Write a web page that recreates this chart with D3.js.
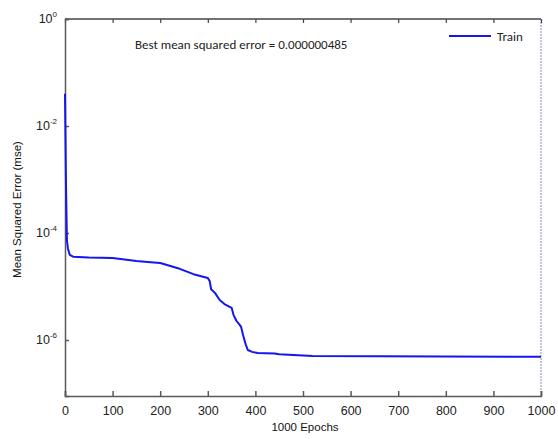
<!DOCTYPE html>
<html><head><meta charset="utf-8">
<script src="https://cdn.jsdelivr.net/npm/d3@7"></script>
<style>body{margin:0;background:#fff}svg{display:block}.arial{font-family:'Liberation Sans',Arial,sans-serif}.cal{font-family:Carlito,Lato,sans-serif}</style>
</head><body>
<script>
const epochs = [0,1,2,4,6,10,17,50,100,150,180,200,241,270,300,304,307,315,325,335,350,354,360,367,370,374,380,384,393,405,440,450,520,1000];
const mse = [0.04,6.3e-3,9e-4,7.4e-5,5.2e-5,3.9e-5,3.6e-5,3.48e-5,3.4e-5,3.0e-5,2.85e-5,2.75e-5,2.14e-5,1.7e-5,1.44e-5,1.26e-5,8.9e-6,7.6e-6,5.6e-6,4.7e-6,4.0e-6,2.95e-6,2.29e-6,1.91e-6,1.76e-6,1.24e-6,8.1e-7,6.5e-7,6.0e-7,5.7e-7,5.6e-7,5.4e-7,5.0e-7,4.85e-7];
const xTicks = [0,100,200,300,400,500,600,700,800,900,1000];
const yTickExps = [0,-2,-4,-6];
const legendLabel = "Train";
const annotation = "Best mean squared error = 0.000000485";
const xLabel = "1000 Epochs";
const yLabel = "Mean Squared Error (mse)";

const W = 558, H = 439;
const L = 65, R = 541, T = 19, B = 396;
const svg = d3.select("body").append("svg").attr("width", W).attr("height", H);
const x = d3.scaleLinear().domain([0,1000]).range([L,R]);
const yDecade = (B-T)/53.5;
const y = d3.scaleLog().domain([Math.pow(10, -yDecade), 1]).range([B,T]);

const axisColor = "#5a5a5a";
svg.append("line").attr("x1",L).attr("x2",R).attr("y1",T).attr("y2",T).attr("stroke","#444").attr("stroke-width",1.5);
svg.append("line").attr("x1",R).attr("x2",R).attr("y1",T).attr("y2",B).attr("stroke","#8a8ab8").attr("stroke-width",1).attr("stroke-dasharray","2,1");

const xAxis = d3.axisBottom(x).tickValues(xTicks).tickSize(-5).tickPadding(10).tickFormat(d3.format("d"));
const gx = svg.append("g").attr("transform",`translate(0,${B})`).call(xAxis);
gx.attr("font-family",null).attr("font-size",null);
gx.select(".domain").attr("stroke",axisColor).attr("stroke-width",1.5);
gx.selectAll(".tick line").attr("stroke",axisColor).attr("stroke-width",1.5);
gx.selectAll(".tick text").attr("class","arial").style("font-size","12.5px").attr("fill","#222");

const gt = svg.append("g").attr("transform",`translate(0,${T})`).call(d3.axisTop(x).tickValues(xTicks).tickSize(-4).tickFormat(""));
gt.select(".domain").remove();
gt.selectAll(".tick line").attr("stroke","#444").attr("stroke-width",1.2);

const yAxis = d3.axisLeft(y).tickValues(yTickExps.map(e=>Math.pow(10,e))).tickSize(-4).tickFormat("");
const gy = svg.append("g").attr("transform",`translate(${L},0)`).call(yAxis);
gy.select(".domain").attr("stroke",axisColor).attr("stroke-width",1.5);
gy.selectAll(".tick line").attr("stroke",axisColor).attr("stroke-width",1.5);
yTickExps.forEach(e=>{
  const t = svg.append("text").attr("class","arial").attr("x",L-8).attr("y",y(Math.pow(10,e))+4)
    .attr("text-anchor","end").style("font-size","12.5px").attr("fill","#222");
  t.append("tspan").text("10");
  t.append("tspan").attr("dy",-6).style("font-size","8px").text(e===0?"0":"-"+(-e));
});

const line = d3.line().x((d,i)=>x(epochs[i])).y(d=>y(d));
svg.append("path").datum(mse).attr("d",line).attr("fill","none").attr("stroke","#1515f0").attr("stroke-width",2).attr("stroke-linejoin","round");

svg.append("text").attr("class","arial").attr("x",(L+R)/2+2).attr("y",431).attr("text-anchor","middle")
  .style("font-size","11.5px").attr("fill","#111").text(xLabel);
svg.append("text").attr("class","arial").attr("transform",`translate(21,${(T+B)/2+2}) rotate(-90)`).attr("text-anchor","middle")
  .style("font-size","11.5px").attr("fill","#111").text(yLabel);

svg.append("text").attr("class","cal").attr("x",135).attr("y",49).style("font-size","13px").attr("fill","#222").text(annotation);

svg.append("line").attr("x1",449).attr("x2",491).attr("y1",36).attr("y2",36).attr("stroke","#1515f0").attr("stroke-width",2);
svg.append("text").attr("class","cal").attr("x",497).attr("y",41).style("font-size","13px").attr("fill","#222").text(legendLabel);
</script>
</body></html>
